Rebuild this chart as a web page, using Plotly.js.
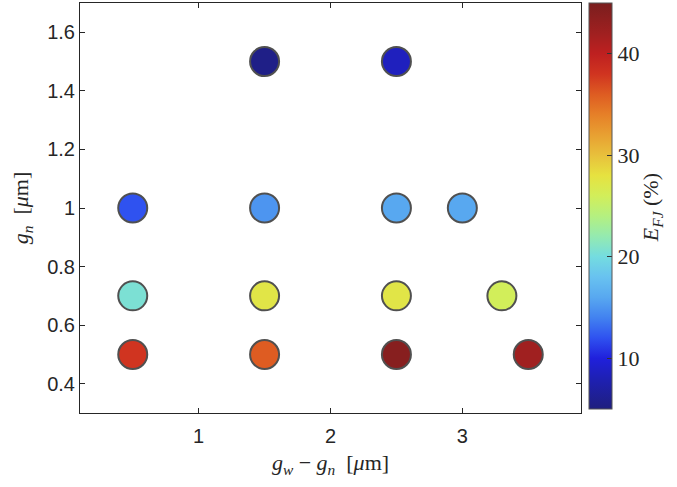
<!DOCTYPE html>
<html>
<head>
<meta charset="utf-8">
<script src="https://cdn.plot.ly/plotly-3.0.1.min.js"></script>
<style>html,body{margin:0;padding:0;background:#fff;}#chart{width:677px;height:487px;}</style>
</head>
<body>
<div id="chart"></div>
<script>
// gw - gn [um]
const gwMinusGn = [0.5, 0.5, 0.5, 1.5, 1.5, 1.5, 1.5, 2.5, 2.5, 2.5, 2.5, 3.0, 3.3, 3.5];
// gn [um]
const gn =        [1.0, 0.7, 0.5, 1.5, 1.0, 0.7, 0.5, 1.5, 1.0, 0.7, 0.5, 1.0, 0.7, 0.5];
// E_FJ (%)
const efj =       [12, 20.5, 38, 5.5, 15, 27.5, 36, 8.5, 16, 27.5, 44, 16, 26, 42];

const xTicks = [1, 2, 3];
const yTicks = [0.4, 0.6, 0.8, 1.0, 1.2, 1.4, 1.6];
const yTickText = ['0.4', '0.6', '0.8', '1', '1.2', '1.4', '1.6'];
const cbTicks = [10, 20, 30, 40];

const colorscale = [
  [0.000, '#1f1f7e'],
  [0.075, '#1e20b4'],
  [0.125, '#2020dc'],
  [0.175, '#2f52f0'],
  [0.225, '#4282f0'],
  [0.275, '#58a8f0'],
  [0.325, '#68c2f0'],
  [0.375, '#74dce0'],
  [0.425, '#94eab0'],
  [0.475, '#b4f080'],
  [0.525, '#d2ee5a'],
  [0.575, '#e6e240'],
  [0.625, '#e8c03c'],
  [0.675, '#e8a032'],
  [0.725, '#e68028'],
  [0.775, '#de5c22'],
  [0.825, '#d03420'],
  [0.875, '#be2020'],
  [0.925, '#a02020'],
  [1.000, '#7a1e1e']
];

const axisFont = {family: 'Liberation Sans, Arial, sans-serif', size: 20, color: '#262626'};
const titleFont = {family: 'Liberation Serif, Times New Roman, serif', size: 22, color: '#262626'};

const trace = {
  type: 'scatter',
  mode: 'markers',
  x: gwMinusGn,
  y: gn,
  marker: {
    size: 29,
    color: efj,
    colorscale: colorscale,
    cmin: 5,
    cmax: 45,
    line: {color: '#505050', width: 2},
    opacity: 1,
    colorbar: {
      x: 1.016, xanchor: 'left', xpad: 0,
      y: 1, yanchor: 'top', ypad: 0,
      len: 0.99, lenmode: 'fraction',
      thickness: 23,
      outlinewidth: 1, outlinecolor: '#555',
      tickvals: cbTicks,
      ticks: 'inside', ticklen: 5, tickcolor: '#333',
      tickfont: {family: 'Liberation Serif, Times New Roman, serif', size: 22, color: '#262626'}
    }
  },
  showlegend: false,
  hoverinfo: 'x+y'
};

const layout = {
  width: 677, height: 487,
  margin: {l: 80, r: 96, t: 3, b: 74},
  paper_bgcolor: '#fff', plot_bgcolor: '#fff',
  xaxis: {
    range: [0.1, 3.9],
    tickvals: xTicks,
    ticks: 'inside', ticklen: 5, tickcolor: '#262626',
    showline: true, linecolor: '#262626', linewidth: 1, mirror: 'ticks',
    showgrid: false, zeroline: false,
    tickfont: axisFont,
    ticklabelstandoff: 5,
    title: {text: '<i>g</i><sub><i>w</i></sub> − <i>g</i><sub><i>n</i></sub>  [<i>μ</i>m]', font: titleFont, standoff: 8}
  },
  yaxis: {
    range: [0.3, 1.7],
    tickvals: yTicks, ticktext: yTickText,
    ticks: 'inside', ticklen: 5, tickcolor: '#262626',
    showline: true, linecolor: '#262626', linewidth: 1, mirror: 'ticks',
    showgrid: false, zeroline: false,
    tickfont: axisFont,
    title: {text: '<i>g</i><sub><i>n</i></sub>  [<i>μ</i>m]', font: titleFont, standoff: 12}
  },
  annotations: [{
    text: '<i>E</i><sub><i>FJ</i></sub> (%)',
    xref: 'paper', yref: 'paper',
    x: 1.142, y: 0.5, xanchor: 'center', yanchor: 'middle',
    textangle: -90, showarrow: false,
    font: titleFont
  }]
};

Plotly.newPlot('chart', [trace], layout, {displayModeBar: false, staticPlot: true});
</script>
</body>
</html>
